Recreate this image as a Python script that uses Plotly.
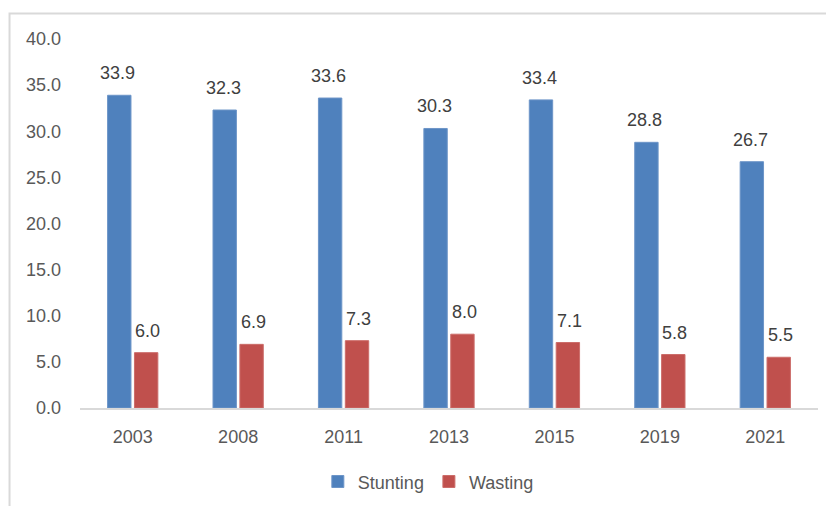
import plotly.graph_objects as go

years = ["2003", "2008", "2011", "2013", "2015", "2019", "2021"]
stunting = [33.9, 32.3, 33.6, 30.3, 33.4, 28.8, 26.7]
wasting = [6.0, 6.9, 7.3, 8.0, 7.1, 5.8, 5.5]

BLUE = "#4F81BD"
RED = "#C0504D"
FONT = "Liberation Sans, Arial, sans-serif"

fig = go.Figure()
fig.add_trace(go.Bar(name="Stunting", x=years, y=stunting,
                     marker=dict(color=BLUE, line=dict(color="#6d95c8", width=1))))
fig.add_trace(go.Bar(name="Wasting", x=years, y=wasting,
                     marker=dict(color=RED, line=dict(color="#cc6d6a", width=1))))

# value labels above bars (x given as category index)
annotations = []
for series, shift in ((stunting, -15), (wasting, 15)):
    for i, v in enumerate(series):
        annotations.append(dict(
            x=i, y=v, xref="x", yref="y", text=f"{v:.1f}", showarrow=False,
            xshift=shift, yshift=10, yanchor="bottom",
            font=dict(family=FONT, size=18, color="#404040"),
        ))

# the page body adds an 8px offset, so margins are reduced by that much
fig.update_layout(
    width=834, height=506,
    paper_bgcolor="#ffffff", plot_bgcolor="#ffffff",
    font=dict(family=FONT, size=18, color="#595959"),
    margin=dict(l=72, r=24, t=31, b=106, autoexpand=False),
    barmode="group", bargap=0.49, bargroupgap=0.13,
    annotations=annotations,
    legend=dict(orientation="h", x=0.472, xanchor="center", y=-0.2, yanchor="middle",
                font=dict(size=18, color="#595959"), itemwidth=30, traceorder="normal"),
    xaxis=dict(type="category", range=[-0.5, len(years) - 0.5], showline=True,
               linecolor="#d9d9d9", linewidth=1.5, ticks="", ticklabelstandoff=12,
               automargin=False, tickfont=dict(size=18, color="#595959")),
    yaxis=dict(range=[0, 40], dtick=5, tickformat=".1f", showgrid=False,
               zeroline=False, showline=False, ticklabelstandoff=18, automargin=False,
               tickfont=dict(size=18, color="#595959")),
    shapes=[dict(type="rect", xref="paper", yref="paper",
                 x0=-0.0955, x1=1.05, y0=-0.35, y1=1.069,
                 line=dict(color="#d9d9d9", width=2), layer="below")],
)

fig.write_html("out.html")
